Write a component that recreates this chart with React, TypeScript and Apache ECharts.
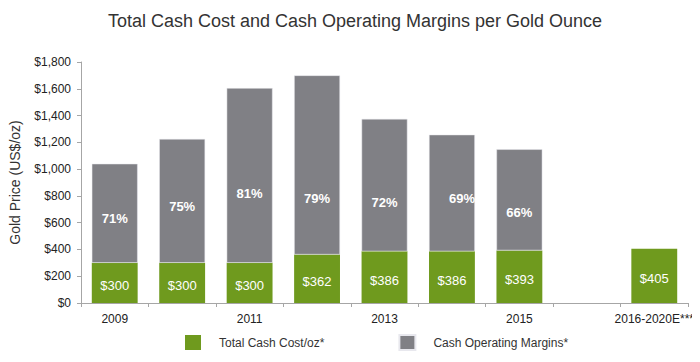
import React, { useEffect, useRef } from "react";
import * as echarts from "echarts";

const categories = ["2009", "2010", "2011", "2012", "2013", "2014", "2015", "", "2016-2020E***"];
const cashCost = [300, 300, 300, 362, 386, 386, 393, null, 405];
const operatingMargin = [740, 925, 1305, 1338, 989, 871, 755, null, null];
const marginPercent = ["71%", "75%", "81%", "79%", "72%", "69%", "66%", "", ""];
const yTicks = { min: 0, max: 1800, interval: 200 };

const labelOffsets: [number, number][] = [
  [0, 5], [0, 6], [0, 18], [0, 34], [0, 17], [10, 5], [0, 13], [0, 0], [0, 0],
];

export default function App() {
  const ref = useRef<HTMLDivElement>(null);
  useEffect(() => {
    if (!ref.current) return;
    const chart = echarts.init(ref.current, null, { renderer: "svg" });
    const font = "'Liberation Sans', Arial, sans-serif";
    chart.setOption({
      animation: false,
      textStyle: { fontFamily: font },
      title: {
        text: "Total Cash Cost and Cash Operating Margins per Gold Ounce",
        left: 342,
        textAlign: "center",
        top: -1,
        textStyle: { fontSize: 18, fontWeight: "normal", color: "#333", fontFamily: font },
      },
      grid: { left: 73, right: 12, top: 54, bottom: 59, containLabel: false, outerBoundsMode: "none" },
      legend: {
        bottom: 6,
        left: 172,
        itemWidth: 16,
        itemHeight: 15,
        itemGap: 74,
        icon: "rect",
        textStyle: { fontSize: 12, color: "#333", padding: [0, 0, 0, 13], fontFamily: font },
        data: ["Total Cash Cost/oz*", "Cash Operating Margins*"],
      },
      xAxis: {
        type: "category",
        data: categories,
        axisLine: { lineStyle: { color: "#a6a6a6" } },
        axisTick: { show: true, interval: 0, length: 4, lineStyle: { color: "#a6a6a6" } },
        axisLabel: { interval: 1, fontSize: 12, color: "#222", margin: 10, fontFamily: font },
      },
      yAxis: {
        type: "value",
        min: yTicks.min,
        max: yTicks.max,
        interval: yTicks.interval,
        name: "Gold Price (US$/oz)",
        nameLocation: "middle",
        nameGap: 59,
        nameTextStyle: { fontSize: 14, color: "#333", fontFamily: font },
        axisLine: { show: true, lineStyle: { color: "#a6a6a6" } },
        axisTick: { show: true, length: 4, lineStyle: { color: "#a6a6a6" } },
        splitLine: { show: false },
        axisLabel: {
          fontSize: 12,
          color: "#222",
          margin: 10,
          fontFamily: font,
          formatter: (v: number) => "$" + v.toLocaleString("en-US"),
        },
      },
      series: [
        {
          name: "Total Cash Cost/oz*",
          type: "bar",
          stack: "total",
          barCategoryGap: "32%",
          itemStyle: { color: "#6f9a1e" },
          data: cashCost,
          label: {
            show: true,
            position: "inside",
            offset: [0, 3],
            color: "#fff",
            fontSize: 13,
            fontFamily: font,
            formatter: (p: any) => (p.value == null ? "" : "$" + p.value),
          },
        },
        {
          name: "Cash Operating Margins*",
          type: "bar",
          stack: "total",
          itemStyle: { color: "#808085", borderColor: "#e8e8ee", borderWidth: 0.5 },
          data: operatingMargin.map((v, i) => ({
            value: v,
            label: { offset: labelOffsets[i] },
          })),
          label: {
            show: true,
            position: "inside",
            color: "#fff",
            fontSize: 13,
            fontWeight: "bold",
            fontFamily: font,
            formatter: (p: any) => marginPercent[p.dataIndex],
          },
        },
      ],
    });
    return () => chart.dispose();
  }, []);
  return <div ref={ref} style={{ width: 692, height: 354 }} />;
}
